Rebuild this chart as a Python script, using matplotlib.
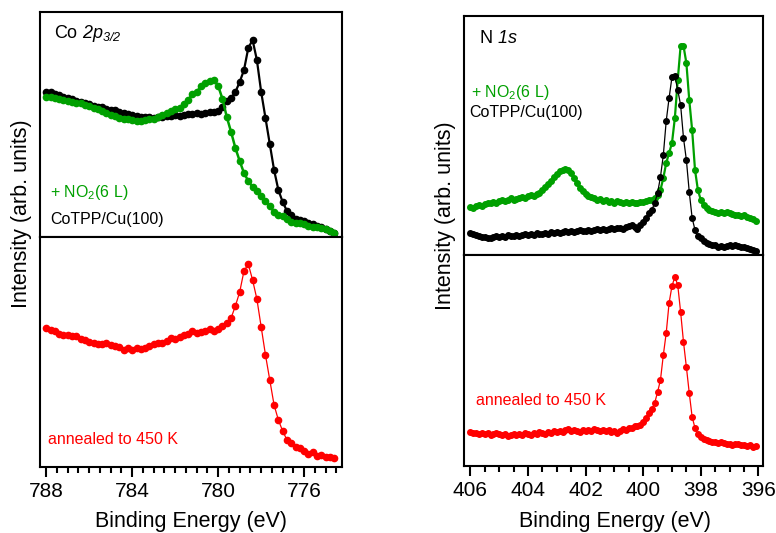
import numpy as np
import matplotlib.pyplot as plt
from matplotlib.ticker import MultipleLocator

plt.rcParams['font.family'] = ['Liberation Sans', 'DejaVu Sans']
plt.rcParams['mathtext.fontset'] = 'custom'
plt.rcParams['mathtext.rm'] = 'Liberation Sans'
plt.rcParams['mathtext.it'] = 'Liberation Sans:italic'
# sf slot used for fully italic text (digits included)
plt.rcParams['mathtext.sf'] = 'Liberation Sans:italic'
plt.rcParams['mathtext.bf'] = 'Liberation Sans:bold'

GREEN = '#00a000'
RED = '#ff0000'

# Co 2p3/2 region, 0.2 eV steps (788.0 -> 774.6)
co_energy = np.round(np.arange(788.0, 774.5, -0.2), 1)
co_clean = [145, 145, 143, 142, 140, 139, 138, 136, 135, 134,
            133, 131, 130, 130, 128, 127, 127, 125, 124, 123,
            122, 121, 120, 120, 120, 119, 120, 120, 121, 121,
            122, 121, 122, 123, 123, 124, 123, 124, 125, 125,
            126, 130, 136, 139, 145, 155, 167, 189, 197, 177,
            145, 119, 93, 67, 47, 35, 26, 22, 18, 17,
            16, 14, 13, 11, 10, 8, 6, 4]
co_no2 = [140, 140, 139, 138, 137, 136, 135, 134, 134, 132,
          131, 129, 128, 126, 124, 122, 121, 119, 118, 118,
          117, 116, 116, 117, 118, 118, 120, 122, 124, 126,
          128, 129, 133, 137, 143, 145, 151, 154, 156, 157,
          151, 138, 120, 105, 89, 76, 64, 56, 50, 46,
          41, 36, 31, 25, 22, 21, 18, 15, 14, 14,
          13, 11, 10, 10, 9, 8, 6, 4]
co_annealed = [139, 137, 136, 133, 132, 132, 131, 131, 128, 127,
               125, 124, 123, 123, 124, 122, 121, 120, 117, 119,
               117, 119, 118, 119, 121, 123, 124, 124, 126, 129,
               128, 130, 132, 133, 136, 134, 135, 136, 138, 136,
               138, 141, 144, 149, 161, 175, 196, 203, 187, 168,
               140, 112, 87, 62, 47, 36, 27, 24, 20, 19,
               16, 13, 15, 11, 12, 10, 10, 9]

# N 1s region, 0.1 eV steps (406.0 -> 396.1)
n_energy = np.round(np.arange(406.0, 396.05, -0.1), 1)
n_clean = [22, 21, 20, 19, 18, 18, 17, 17, 18, 19,
           18, 19, 18, 20, 19, 19, 20, 19, 20, 21,
           20, 21, 20, 22, 21, 21, 22, 21, 23, 22,
           23, 22, 23, 24, 23, 24, 23, 24, 25, 24,
           24, 25, 24, 25, 26, 25, 26, 25, 26, 27,
           26, 27, 27, 26, 28, 29, 30, 28, 26, 30,
           33, 37, 42, 45, 52, 62, 78, 100, 134, 157,
           178, 179, 165, 150, 117, 95, 63, 37, 25, 19,
           17, 14, 12, 11, 10, 10, 8, 9, 8, 9,
           10, 9, 10, 9, 8, 8, 7, 6, 5, 4]
n_no2 = [48, 47, 49, 50, 49, 51, 52, 52, 53, 52,
         54, 55, 54, 55, 57, 55, 56, 57, 58, 57,
         59, 60, 59, 61, 62, 65, 68, 71, 74, 78,
         81, 84, 85, 86, 85, 82, 77, 72, 67, 64,
         61, 59, 58, 57, 55, 56, 54, 55, 53, 54,
         52, 54, 53, 52, 53, 52, 53, 52, 52, 53,
         53, 54, 55, 55, 57, 60, 65, 77, 92, 102,
         112, 137, 175, 209, 209, 192, 155, 125, 85, 65,
         55, 50, 47, 45, 44, 43, 42, 43, 42, 43,
         42, 41, 40, 40, 39, 40, 38, 37, 36, 34]
n_annealed = [34, 33, 33, 32, 33, 32, 33, 31, 32, 33,
              32, 31, 32, 30, 31, 32, 31, 32, 31, 33,
              32, 31, 33, 32, 34, 33, 32, 34, 33, 35,
              34, 35, 34, 36, 37, 35, 36, 35, 34, 36,
              35, 36, 35, 37, 36, 35, 36, 35, 36, 34,
              35, 33, 35, 37, 36, 38, 38, 40, 40, 41,
              44, 48, 53, 57, 63, 74, 86, 111, 133, 163,
              180, 189, 181, 154, 124, 99, 73, 49, 38, 32,
              29, 27, 26, 25, 24, 24, 23, 24, 23, 22,
              22, 21, 22, 22, 21, 21, 20, 21, 19, 20]

W, H = 776, 533
fig = plt.figure(figsize=(W / 100, H / 100), dpi=100)


def box(x0, y0, x1, y1):
    # pixel box (top-left origin) -> figure fraction rect
    return [x0 / W, 1 - y1 / H, (x1 - x0) / W, (y1 - y0) / H]


def px(x, y):
    return x / W, 1 - y / H


ax_co_top = fig.add_axes(box(40, 12, 342, 237))
ax_co_bot = fig.add_axes(box(40, 237, 342, 467))
ax_n_top = fig.add_axes(box(464, 16, 763, 255))
ax_n_bot = fig.add_axes(box(464, 255, 763, 466))

ax_co_top.plot(co_energy, co_clean, '-o', color='black', lw=1.6, ms=4.5)
ax_co_top.plot(co_energy, co_no2, '-o', color=GREEN, lw=1.8, ms=4.5)
ax_co_bot.plot(co_energy, co_annealed, '-o', color=RED, lw=0.9, ms=4.5)

ax_n_top.plot(n_energy, n_no2, '-o', color=GREEN, lw=1.6, ms=4)
ax_n_top.plot(n_energy, n_clean, '-o', color='black', lw=0.9, ms=4)
ax_n_bot.plot(n_energy, n_annealed, '-o', color=RED, lw=0.9, ms=4)

for ax in (ax_co_top, ax_co_bot):
    ax.set_xlim(788.29, 774.24)
for ax in (ax_n_top, ax_n_bot):
    ax.set_xlim(406.22, 395.84)
ax_co_top.set_ylim(0, 225)
ax_co_bot.set_ylim(0, 230)
ax_n_top.set_ylim(0, 239)
ax_n_bot.set_ylim(0, 211)

for ax in (ax_co_top, ax_co_bot, ax_n_top, ax_n_bot):
    for s in ax.spines.values():
        s.set_linewidth(1.5)
    ax.tick_params(left=False, labelleft=False)
for ax in (ax_co_top, ax_n_top):
    ax.tick_params(bottom=False, labelbottom=False)

ax_co_bot.xaxis.set_major_locator(MultipleLocator(4))
ax_co_bot.xaxis.set_minor_locator(MultipleLocator(0.5))
ax_n_bot.xaxis.set_major_locator(MultipleLocator(2))
ax_n_bot.xaxis.set_minor_locator(MultipleLocator(0.5))
for ax in (ax_co_bot, ax_n_bot):
    ax.tick_params(axis='x', which='major', direction='out', length=7,
                   width=1.5, labelsize=15, pad=4)
    ax.tick_params(axis='x', which='minor', direction='out', length=4.5,
                   width=1.5)

# annotations
fig.text(*px(54, 38), r'Co $\mathsf{2p}_{\mathsf{3/2}}$', fontsize=13, va='baseline')
fig.text(*px(50, 197), r'+ NO$_2$(6 L)', fontsize=11.5, color=GREEN, va='baseline')
fig.text(*px(50, 224), 'CoTPP/Cu(100)', fontsize=11.5, color='black', va='baseline')
fig.text(*px(48, 444), 'annealed to 450 K', fontsize=11.5, color=RED, va='baseline')

fig.text(*px(479, 43), r'N $\mathsf{1s}$', fontsize=13, va='baseline')
fig.text(*px(471, 97), r'+ NO$_2$(6 L)', fontsize=11.5, color=GREEN, va='baseline')
fig.text(*px(469, 117), 'CoTPP/Cu(100)', fontsize=11.5, color='black', va='baseline')
fig.text(*px(476, 405), 'annealed to 450 K', fontsize=11.5, color=RED, va='baseline')

fig.text(*px(191, 521), 'Binding Energy (eV)', fontsize=15.5, ha='center', va='center')
fig.text(*px(615, 521), 'Binding Energy (eV)', fontsize=15.5, ha='center', va='center')
fig.text(*px(22, 214), 'Intensity (arb. units)', fontsize=15.5, rotation=90,
         ha='center', va='center')
fig.text(*px(446, 216), 'Intensity (arb. units)', fontsize=15.5, rotation=90,
         ha='center', va='center')

fig.savefig('out.png', dpi=100)
